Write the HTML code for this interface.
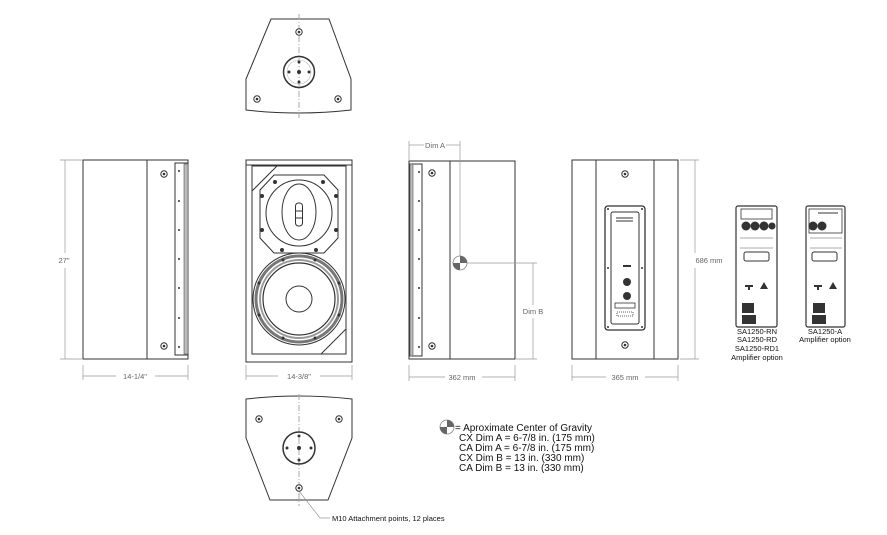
<!DOCTYPE html>
<html><head><meta charset="utf-8"><style>
html,body{margin:0;padding:0;background:#fff;}
svg{display:block;font-family:"Liberation Sans",sans-serif;}
</style></head><body>
<svg width="887" height="535" viewBox="0 0 887 535" xmlns="http://www.w3.org/2000/svg">
<defs>
<g id="scr"><circle r="3.2" fill="#fff" stroke="#333" stroke-width="1"/><circle r="1.3" fill="#333"/></g>
<g id="cog"><circle r="7" fill="#fff" stroke="#888" stroke-width="0.8"/><path d="M0,0 L0,-7 A7,7 0 0 1 7,0 Z" fill="#666"/><path d="M0,0 L0,7 A7,7 0 0 1 -7,0 Z" fill="#666"/></g>
</defs>
<g fill="none" stroke="#333" stroke-width="1">
<!-- top view -->
<path d="M271,19 L329,19 L351,79 L351,110 Q299,116 246,110 L246,79 Z"/>
<line x1="299" y1="14" x2="299" y2="118" stroke="#aaa" stroke-dasharray="6,2,1,2"/>
<circle cx="299" cy="72" r="15.5" stroke-width="1.5"/>
<circle cx="299" cy="72" r="12" stroke="#bbb" stroke-width="0.6"/>
<!-- bottom view -->
<path d="M246,399 Q299,393 352,399 L352,438 L328,500 L270,500 L246,438 Z"/>
<line x1="299" y1="394" x2="299" y2="506" stroke="#aaa" stroke-dasharray="6,2,1,2"/>
<circle cx="299" cy="448" r="16" stroke-width="1.5"/>
<polyline points="299,491 320,518 330,518" stroke="#999" stroke-width="0.7"/>
<!-- left side view -->
<rect x="83" y="160" width="105" height="199"/>
<line x1="147" y1="160" x2="147" y2="359"/>
<rect x="175" y="163" width="13" height="192"/>
<rect x="184" y="164" width="4" height="190" fill="#bbb" stroke="#555" stroke-width="0.6"/>
<!-- front -->
<rect x="246" y="160" width="106" height="202"/>
<line x1="246" y1="165" x2="352" y2="165"/>
<rect x="252" y="166" width="94" height="188"/>
<line x1="252" y1="191" x2="277" y2="166"/>
<line x1="321" y1="354" x2="346" y2="329"/>
<path d="M274,175 L324,175 L338,190 L338,238 L324,253 L274,253 L260,238 L260,190 Z"/>
<circle cx="299" cy="213" r="33"/>
<ellipse cx="299" cy="212" rx="17" ry="28"/>
<rect x="295.5" y="203" width="7" height="23" rx="3"/>
<line x1="295.5" y1="211" x2="302.5" y2="211"/><line x1="295.5" y1="218" x2="302.5" y2="218"/>
<circle cx="299" cy="299" r="46"/>
<circle cx="299" cy="299" r="43" stroke="#777" stroke-width="3"/>
<circle cx="299" cy="299" r="39" stroke="#999" stroke-width="2"/>
<circle cx="299" cy="299" r="36" stroke-width="1.2"/>
<circle cx="299" cy="299" r="13"/>
<!-- right side -->
<rect x="409" y="161" width="106" height="198"/>
<line x1="450" y1="161" x2="450" y2="359"/>
<rect x="410" y="164" width="12" height="192"/>
<rect x="410" y="164" width="3" height="192" fill="#bbb" stroke="#555" stroke-width="0.6"/>
<!-- rear -->
<rect x="572" y="160" width="106" height="199"/>
<line x1="596" y1="160" x2="596" y2="359"/>
<line x1="654" y1="160" x2="654" y2="359"/>
<rect x="605" y="206" width="40" height="124" rx="3" stroke-width="1.3"/>
<rect x="611" y="212" width="28" height="112" rx="2"/>
<line x1="616" y1="218" x2="633" y2="218"/><line x1="616" y1="221" x2="633" y2="221"/>
<rect x="615" y="303" width="20" height="5" stroke-width="0.8"/>
<rect x="617" y="312" width="16" height="4" stroke-width="0.8" stroke-dasharray="1,1"/>
<!-- amp panels -->
<rect x="736" y="206" width="41" height="121" rx="2" stroke-width="1.2"/>
<rect x="741" y="209" width="31" height="10" stroke-width="0.8"/>
<rect x="744" y="252" width="25" height="9" rx="2"/>
<line x1="740" y1="238" x2="773" y2="238" stroke="#aaa"/>
<line x1="740" y1="248" x2="773" y2="248" stroke="#aaa"/>
<rect x="806" y="206" width="39" height="121" rx="2" stroke-width="1.2"/>
<rect x="809" y="209" width="33" height="24" stroke-width="0.8"/>
<line x1="818" y1="213" x2="838" y2="213"/>
<rect x="812" y="252" width="25" height="9" rx="2"/>
<line x1="810" y1="238" x2="842" y2="238" stroke="#aaa"/>
<line x1="810" y1="248" x2="842" y2="248" stroke="#aaa"/>
</g>
<!-- screws -->
<use href="#scr" x="299" y="32"/><use href="#scr" x="257" y="99"/><use href="#scr" x="338" y="99"/><circle cx="299" cy="72" r="2" fill="#333"/><circle cx="299" cy="62" r="1.5" fill="#333"/><circle cx="299" cy="82" r="1.5" fill="#333"/><circle cx="289" cy="72" r="1.5" fill="#333"/><circle cx="309" cy="72" r="1.5" fill="#333"/>
<use href="#scr" x="259" y="419"/><use href="#scr" x="339" y="419"/><use href="#scr" x="299" y="488"/><circle cx="299" cy="448" r="2" fill="#333"/><circle cx="299" cy="436" r="1.5" fill="#333"/><circle cx="299" cy="460" r="1.5" fill="#333"/><circle cx="287" cy="448" r="1.5" fill="#333"/><circle cx="311" cy="448" r="1.5" fill="#333"/>
<use href="#scr" x="164" y="174"/><use href="#scr" x="164" y="346"/>
<use href="#scr" x="432" y="173"/><use href="#scr" x="432" y="346"/>
<use href="#scr" x="625" y="174"/><use href="#scr" x="625" y="345"/>
<g fill="#333">
<circle cx="179" cy="171" r="1"/><circle cx="179" cy="201" r="1"/><circle cx="179" cy="230" r="1"/><circle cx="179" cy="259" r="1"/><circle cx="179" cy="288" r="1"/><circle cx="179" cy="318" r="1"/><circle cx="179" cy="347" r="1"/>
<circle cx="419" cy="172" r="1"/><circle cx="419" cy="201" r="1"/><circle cx="419" cy="230" r="1"/><circle cx="419" cy="259" r="1"/><circle cx="419" cy="288" r="1"/><circle cx="419" cy="318" r="1"/><circle cx="419" cy="347" r="1"/>
<circle cx="275" cy="182" r="2"/><circle cx="323" cy="182" r="2"/><circle cx="262" cy="196" r="2"/><circle cx="336" cy="196" r="2"/><circle cx="262" cy="230" r="2"/><circle cx="336" cy="230" r="2"/><circle cx="282" cy="250" r="2"/><circle cx="316" cy="250" r="2"/>
<circle cx="283" cy="260" r="1.5"/><circle cx="315" cy="260" r="1.5"/><circle cx="283" cy="338" r="1.5"/><circle cx="315" cy="338" r="1.5"/><circle cx="259" cy="283" r="1.5"/><circle cx="339" cy="283" r="1.5"/><circle cx="259" cy="315" r="1.5"/><circle cx="339" cy="315" r="1.5"/>
<circle cx="608" cy="209" r="1"/><circle cx="642" cy="209" r="1"/><circle cx="608" cy="268" r="1"/><circle cx="642" cy="268" r="1"/><circle cx="608" cy="327" r="1"/><circle cx="642" cy="327" r="1"/>
<circle cx="627" cy="282" r="4"/><circle cx="627" cy="296" r="4"/>
<rect x="623" y="265" width="8" height="2"/>
<circle cx="746" cy="226" r="4.5"/><circle cx="755" cy="226" r="4.5"/><circle cx="764" cy="226" r="4.5"/><circle cx="772" cy="226" r="3.5"/>
<circle cx="813" cy="226" r="4.5"/><circle cx="822" cy="226" r="4.5"/>
<rect x="742" y="303" width="12" height="10"/><rect x="813" y="303" width="12" height="10"/>
<rect x="742" y="315" width="14" height="9"/><rect x="812" y="315" width="14" height="9"/>
<path d="M760,289 L768,289 L764,282 Z"/><path d="M829,289 L837,289 L833,282 Z"/>
<rect x="745" y="285" width="8" height="2"/><rect x="748" y="287" width="2" height="3"/><rect x="814" y="285" width="8" height="2"/><rect x="817" y="287" width="2" height="3"/>
</g>
<!-- CoG -->
<use href="#cog" x="460" y="263"/>
<use href="#cog" x="447" y="427"/>
<!-- dimension lines -->
<g stroke="#999" stroke-width="0.7" fill="none">
<line x1="65" y1="160" x2="65" y2="253"/><line x1="65" y1="268" x2="65" y2="359"/><line x1="60" y1="160" x2="83" y2="160"/><line x1="60" y1="359" x2="83" y2="359"/>
<line x1="83" y1="376" x2="116" y2="376"/><line x1="155" y1="376" x2="188" y2="376"/><line x1="83" y1="365" x2="83" y2="380"/><line x1="188" y1="365" x2="188" y2="380"/>
<line x1="246" y1="376" x2="278" y2="376"/><line x1="320" y1="376" x2="352" y2="376"/><line x1="246" y1="365" x2="246" y2="380"/><line x1="352" y1="365" x2="352" y2="380"/>
<line x1="409" y1="377" x2="445" y2="377"/><line x1="482" y1="377" x2="515" y2="377"/><line x1="409" y1="365" x2="409" y2="381"/><line x1="515" y1="365" x2="515" y2="381"/>
<line x1="572" y1="377" x2="606" y2="377"/><line x1="645" y1="377" x2="678" y2="377"/><line x1="572" y1="365" x2="572" y2="381"/><line x1="678" y1="365" x2="678" y2="381"/>
<line x1="695" y1="160" x2="695" y2="253"/><line x1="695" y1="268" x2="695" y2="359"/><line x1="680" y1="160" x2="699" y2="160"/><line x1="680" y1="359" x2="699" y2="359"/>
<line x1="409" y1="145" x2="424" y2="145"/><line x1="446" y1="145" x2="460" y2="145"/><line x1="409" y1="141" x2="409" y2="161"/>
<line x1="460" y1="141" x2="460" y2="256"/>
<line x1="467" y1="263" x2="537" y2="263"/>
<line x1="533" y1="263" x2="533" y2="305"/><line x1="533" y1="318" x2="533" y2="359"/><line x1="515" y1="359" x2="537" y2="359"/>
</g>
<g font-size="7.5" fill="#666" text-anchor="middle">
<text x="64" y="263">27"</text>
<text x="135" y="379">14-1/4"</text>
<text x="299" y="379">14-3/8"</text>
<text x="462" y="380">362 mm</text>
<text x="625" y="380">365 mm</text>
<text x="709" y="263">686 mm</text>
<text x="435" y="148">Dim A</text>
<text x="533" y="314">Dim B</text>
</g>
<g font-size="7.5" fill="#111" text-anchor="middle">
<text x="757" y="334">SA1250-RN</text>
<text x="757" y="342">SA1250-RD</text>
<text x="757" y="351">SA1250-RD1</text>
<text x="757" y="360">Amplifier option</text>
<text x="825" y="334">SA1250-A</text>
<text x="825" y="342">Amplifier option</text>
</g>
<text x="332" y="521" font-size="7.5" fill="#111">M10 Attachment points, 12 places</text>
<g font-size="10" fill="#111">
<text x="455" y="431">= Aproximate Center of Gravity</text>
<text x="459" y="441">CX Dim A = 6-7/8 in. (175 mm)</text>
<text x="459" y="451">CA Dim A = 6-7/8 in. (175 mm)</text>
<text x="459" y="461">CX Dim B = 13 in. (330 mm)</text>
<text x="459" y="471">CA Dim B = 13 in. (330 mm)</text>
</g>
</svg>
</body></html>
